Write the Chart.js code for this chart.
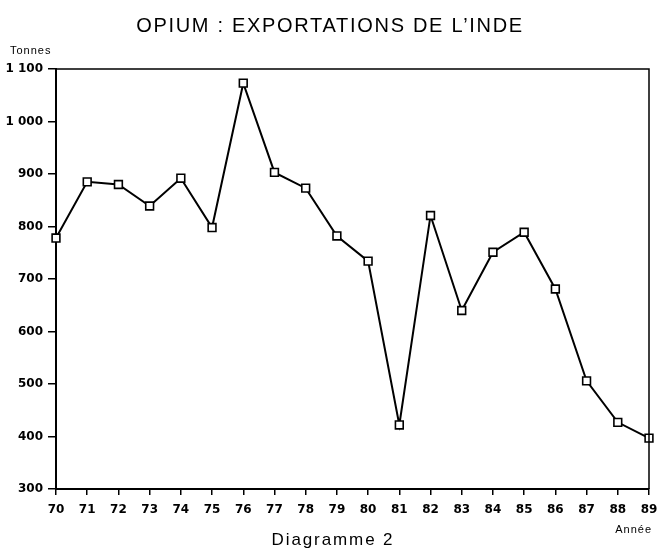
<!DOCTYPE html>
<html>
<head>
<meta charset="utf-8">
<script src="https://cdn.jsdelivr.net/npm/chart.js@4"></script>
<style>
  html, body { margin: 0; padding: 0; background: #fff; }
  #wrap { width: 658px; height: 560px; position: relative; }
</style>
</head>
<body>
<div id="wrap"><canvas id="c" width="658" height="560"></canvas></div>
<script>
const years = ['70','71','72','73','74','75','76','77','78','79','80','81','82','83','84','85','86','87','88','89'];
const exportsTonnes = [778, 885, 880, 839, 892, 798, 1073, 903, 873, 782, 734, 422, 821, 640, 751, 789, 681, 506, 427, 397];
const yTickValues = [300, 400, 500, 600, 700, 800, 900, 1000, 1100];
const yTickLabels = ['300', '400', '500', '600', '700', '800', '900', '1 000', '1 100'];
const titleText = 'OPIUM : EXPORTATIONS DE L\u2019INDE';
const captionText = 'Diagramme 2';
const yUnitText = 'Tonnes';
const xUnitText = 'Ann\u00e9e';

const textPlugin = {
  id: 'frameAndTexts',
  afterDraw(chart) {
    const ctx = chart.ctx;
    const a = chart.chartArea;
    ctx.save();
    ctx.strokeStyle = '#000';
    ctx.lineWidth = 1.5;
    ctx.beginPath();
    ctx.moveTo(a.left, a.top);
    ctx.lineTo(a.right, a.top);
    ctx.lineTo(a.right, a.bottom);
    ctx.stroke();
    ctx.fillStyle = '#000';
    ctx.textBaseline = 'alphabetic';
    ctx.textAlign = 'left';

    ctx.font = '20px "Liberation Sans", Arial, sans-serif';
    ctx.letterSpacing = '1.7px';
    let w = ctx.measureText(titleText).width;
    ctx.fillText(titleText, 330 - w / 2, 32);

    ctx.font = '17px "Liberation Sans", Arial, sans-serif';
    ctx.letterSpacing = '1.9px';
    w = ctx.measureText(captionText).width;
    ctx.fillText(captionText, 333 - w / 2, 545);

    ctx.font = '11px "Liberation Sans", Arial, sans-serif';
    ctx.letterSpacing = '1px';
    ctx.fillText(yUnitText, 10, 54);

    w = ctx.measureText(xUnitText).width;
    ctx.fillText(xUnitText, 652 - w, 533);
    ctx.restore();
  }
};

new Chart(document.getElementById('c'), {
  type: 'line',
  data: {
    labels: years,
    datasets: [{
      data: exportsTonnes,
      borderColor: '#000',
      borderWidth: 2,
      tension: 0,
      pointStyle: 'rect',
      pointRadius: 5.5,
      pointBorderWidth: 1.6,
      pointBackgroundColor: '#fff',
      pointBorderColor: '#000'
    }]
  },
  options: {
    responsive: false,
    animation: false,
    devicePixelRatio: 1,
    layout: { padding: { top: 69, right: 0, left: 0, bottom: 0 } },
    plugins: {
      legend: { display: false },
      title: { display: false },
      tooltip: { enabled: false }
    },
    scales: {
      x: {
        type: 'category',
        offset: false,
        afterFit(scale) { scale.height = 71; scale.paddingRight = 9; },
        grid: { display: true, drawOnChartArea: false, drawTicks: true, tickLength: 6, color: '#000', lineWidth: 1.5 },
        border: { display: true, color: '#000', width: 2 },
        ticks: {
          color: '#000',
          padding: 8,
          maxRotation: 0,
          autoSkip: false,
          font: { family: '"DejaVu Sans", sans-serif', size: 12, weight: 'bold' }
        }
      },
      y: {
        min: 300,
        max: 1100,
        afterFit(scale) { scale.width = 56; },
        afterBuildTicks(scale) { scale.ticks = yTickValues.map(v => ({ value: v })); },
        grid: { display: true, drawOnChartArea: false, drawTicks: true, tickLength: 8, color: '#000', lineWidth: 1.5 },
        border: { display: true, color: '#000', width: 2 },
        ticks: {
          color: '#000',
          padding: 5,
          callback(v) { const i = yTickValues.indexOf(v); return i >= 0 ? yTickLabels[i] : ''; },
          font: { family: '"DejaVu Sans", sans-serif', size: 12, weight: 'bold' }
        }
      }
    }
  },
  plugins: [textPlugin]
});
</script>
</body>
</html>
